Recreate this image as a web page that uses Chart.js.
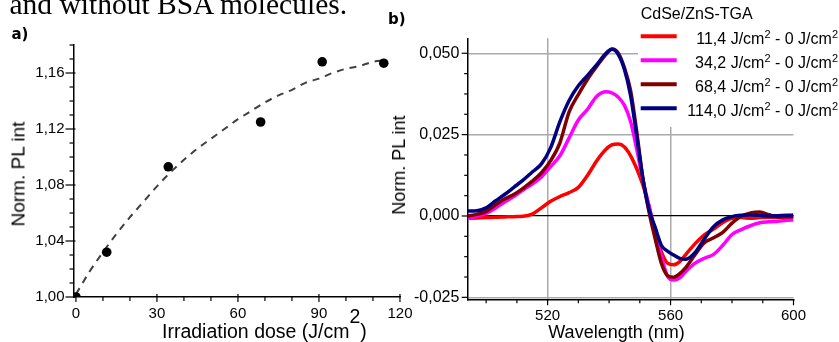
<!DOCTYPE html>
<html><head><meta charset="utf-8">
<script src="https://cdn.jsdelivr.net/npm/chart.js@4.4.1/dist/chart.umd.min.js"></script>
<style>
html,body{margin:0;padding:0;background:#fff;}
body{width:839px;height:342px;position:relative;overflow:hidden;font-family:"Liberation Sans",Arial,sans-serif;color:#000;}
canvas{position:absolute;top:0;}
#cA{left:0;}
#cB{left:380px;}
.t{position:absolute;white-space:nowrap;line-height:1;font-family:"Liberation Sans",Arial,sans-serif;}
.lab{font-family:"DejaVu Sans",sans-serif;font-size:15px;font-weight:700;}
</style></head><body>
<canvas id="cA" width="420" height="342"></canvas>
<canvas id="cB" width="459" height="342"></canvas>
<div class="t" style="left:9.5px;top:-10.2px;font-family:'Liberation Serif','Times New Roman',serif;font-size:29.5px;line-height:29.5px;">and without BSA molecules.</div>
<div class="t lab" style="left:11.5px;top:26.5px;">a)</div>
<div class="t lab" style="left:388px;top:11.5px;">b)</div>
<div class="t" style="left:18px;top:174px;font-size:19px;transform:translate(-50%,-50%) rotate(-90deg);">Norm. PL int</div>
<div class="t" style="left:162px;top:321.5px;font-size:19.5px;">Irradiation dose (J/cm<span style="position:relative;top:-14.5px">2</span>)</div>
<div class="t" style="left:399px;top:165px;font-size:18px;transform:translate(-50%,-50%) rotate(-90deg);">Norm. PL int</div>
<div class="t" style="left:548.3px;top:322.8px;font-size:18px;">Wavelength (nm)</div>
<script>
// ---------- Panel a data ----------
const dose   = [0, 11.4, 34.2, 68.4, 91.2, 114.0];
const normPL = [1.000, 1.032, 1.093, 1.125, 1.168, 1.167];
const fitDose = [0,5,10,15,20,25,30,35,40,45,50,55,60,65,70,75,80,85,90,95,100,105,110,114];
const fitPL   = [1.002,1.018,1.032,1.045,1.057,1.068,1.079,1.089,1.098,1.106,1.113,1.120,1.127,1.133,1.139,1.144,1.148,1.153,1.156,1.160,1.163,1.165,1.168,1.169];
const doseTicks = [0,30,60,90,120];
const doseMinor = [10,20,40,50,70,80,100,110];
const plTicks = [1.00,1.04,1.08,1.12,1.16];
const plMinor = [1.01,1.02,1.03,1.05,1.06,1.07,1.09,1.10,1.11,1.13,1.14,1.15,1.17,1.18];

// ---------- Panel b data ----------
const wavelength = [494,497,500,503,506,509,512,515,518,521,524,527,530,533,536,539,541,543,545,547,549,551,553,555,557,559,561,563,565,568,571,574,577,580,583,586,589,592,595,598,600];
const diff11 = [-0.0007,-0.0006,-0.0005,-0.0004,-0.0003,-0.0002,-0.0001,0.0006,0.0025,0.0045,0.0060,0.0072,0.0088,0.0125,0.0170,0.0205,0.0219,0.0221,0.0212,0.0185,0.0145,0.0095,0.0030,-0.0050,-0.0110,-0.0145,-0.0150,-0.0140,-0.0118,-0.0085,-0.0058,-0.0040,-0.0020,-0.0007,-0.0005,-0.0007,-0.0005,-0.0004,-0.0004,-0.0004,-0.0004];
const diff34 = [-0.0007,0.0000,0.0008,0.0024,0.0043,0.0060,0.0080,0.0098,0.0120,0.0152,0.0185,0.0240,0.0295,0.0328,0.0368,0.0382,0.0378,0.0365,0.0340,0.0290,0.0205,0.0110,0.0030,-0.0055,-0.0125,-0.0185,-0.0197,-0.0190,-0.0170,-0.0145,-0.0130,-0.0118,-0.0090,-0.0057,-0.0042,-0.0030,-0.0021,-0.0018,-0.0016,-0.0013,-0.0012];
const diff68 = [0.0000,0.0005,0.0014,0.0034,0.0052,0.0066,0.0085,0.0107,0.0133,0.0170,0.0225,0.0320,0.0373,0.0420,0.0460,0.0497,0.0513,0.0500,0.0455,0.0385,0.0258,0.0115,0.0012,-0.0070,-0.0145,-0.0183,-0.0188,-0.0177,-0.0158,-0.0118,-0.0082,-0.0067,-0.0050,-0.0022,0.0000,0.0009,0.0012,0.0004,-0.0003,-0.0002,-0.0002];
const diff114 = [0.0015,0.0016,0.0025,0.0046,0.0066,0.0088,0.0110,0.0135,0.0160,0.0210,0.0290,0.0355,0.0400,0.0432,0.0465,0.0500,0.0512,0.0496,0.0450,0.0370,0.0245,0.0115,0.0020,-0.0035,-0.0090,-0.0108,-0.0120,-0.0130,-0.0133,-0.0112,-0.0070,-0.0033,-0.0012,-0.0002,0.0002,0.0003,0.0002,0.0000,0.0001,0.0002,0.0003];
const seriesLabels = ['11,4 J/cm\u00B2 - 0 J/cm\u00B2','34,2 J/cm\u00B2 - 0 J/cm\u00B2','68,4 J/cm\u00B2 - 0 J/cm\u00B2','114,0 J/cm\u00B2 - 0 J/cm\u00B2'];
const seriesColors = ['#ff0000','#ff00ff','#800000','#000080'];
const legendTitle = 'CdSe/ZnS-TGA';
const wlTicks = [520,560,600];
const wlMinor = [500,510,530,540,550,570,580,590];
const diffTicks = [-0.025,0,0.025,0.05];
const diffMinor = [-0.01875,-0.0125,-0.00625,0.00625,0.0125,0.01875,0.03125,0.0375,0.04375];

const FONT = '"Liberation Sans", Arial, sans-serif';
const comma = (v,d) => Number(v).toFixed(d).replace('.', ',');

const tickMarks = {
  id: 'tickMarks',
  afterDraw(chart, args, o) {
    const ctx = chart.ctx, a = chart.chartArea, xs = chart.scales.x, ys = chart.scales.y;
    ctx.save();
    ctx.strokeStyle = '#000';
    ctx.lineWidth = 1.2;
    const seg = (x1,y1,x2,y2) => { ctx.beginPath(); ctx.moveTo(x1,y1); ctx.lineTo(x2,y2); ctx.stroke(); };
    o.xMajor.forEach(v => { const p = xs.getPixelForValue(v); seg(p, a.bottom - o.xMajorIn, p, a.bottom + o.xMajorOut); });
    o.xMinor.forEach(v => { const p = xs.getPixelForValue(v); seg(p, a.bottom, p, a.bottom + o.xMinorOut); });
    o.yMajor.forEach(v => { const p = ys.getPixelForValue(v); seg(a.left - o.yMajorOut, p, a.left + o.yMajorIn, p); });
    o.yMinor.forEach(v => { const p = ys.getPixelForValue(v); seg(a.left - o.yMinorOut, p, a.left, p); });
    ctx.restore();
  }
};

const boxLegend = {
  id: 'boxLegend',
  afterDraw(chart, args, o) {
    const ctx = chart.ctx;
    const mainFont = '16px ' + FONT, supFont = '11px ' + FONT;
    ctx.save();
    ctx.fillStyle = '#fff';
    ctx.fillRect(o.left, 0, chart.width - o.left, o.bottom);
    ctx.fillStyle = '#000';
    ctx.textBaseline = 'alphabetic';
    ctx.textAlign = 'left';
    ctx.font = '16px ' + FONT;
    ctx.fillText(o.title, o.lineX, o.titleBase);
    chart.data.datasets.forEach((ds, i) => {
      const y = o.rowY + i * o.rowH;
      ctx.strokeStyle = ds.borderColor;
      ctx.lineWidth = 4;
      ctx.beginPath(); ctx.moveTo(o.lineX, y); ctx.lineTo(o.lineX + o.lineLen, y); ctx.stroke();
      const parts = ds.label.split('\u00B2');
      ctx.font = supFont; const sw = ctx.measureText('2').width;
      ctx.font = mainFont;
      let total = 0;
      parts.forEach(p => { total += ctx.measureText(p).width; });
      total += (parts.length - 1) * sw;
      let x = o.textRight - total;
      const base = y + 7.3;
      parts.forEach((p, j) => {
        ctx.font = mainFont; ctx.fillText(p, x, base); x += ctx.measureText(p).width;
        if (j < parts.length - 1) { ctx.font = supFont; ctx.fillText('2', x, base - 6); x += sw; }
      });
    });
    ctx.restore();
  }
};

// ---------- Chart a ----------
new Chart(document.getElementById('cA'), {
  type: 'scatter',
  data: { datasets: [
    { type: 'line', label: 'fit', data: fitDose.map((x,i) => ({x, y: fitPL[i]})),
      borderColor: '#404040', borderWidth: 2, borderDash: [7,6], pointRadius: 0,
      tension: 0.4, cubicInterpolationMode: 'monotone', fill: false, order: 1 },
    { type: 'scatter', label: 'data', data: dose.map((x,i) => ({x, y: normPL[i]})),
      backgroundColor: '#000', borderColor: '#000', borderWidth: 0, pointRadius: 4.8, clip: 0, order: 0 }
  ]},
  options: {
    responsive: false, animation: false, devicePixelRatio: 1,
    layout: { padding: { left: 0, top: 45, right: 17, bottom: 0 } },
    plugins: { legend: { display: false }, tooltip: { enabled: false },
      tickMarks: { xMajor: doseTicks, xMinor: doseMinor, yMajor: plTicks, yMinor: plMinor,
        xMajorIn: 3, xMajorOut: 5, xMinorOut: 4, yMajorIn: 2, yMajorOut: 8, yMinorOut: 4 } },
    scales: {
      x: { type: 'linear', position: 'bottom', min: -0.9, max: 120.2,
        afterBuildTicks: s => { s.ticks = doseTicks.map(v => ({value: v})); },
        afterFit: s => { s.height = 45; },
        grid: { display: false, drawTicks: false },
        border: { display: true, color: '#000', width: 1.5 },
        ticks: { color: '#000', font: { family: FONT, size: 15 }, padding: 7.5, maxRotation: 0, autoSkip: false,
          callback: v => String(v) } },
      y: { type: 'linear', min: 1.0, max: 1.18,
        afterBuildTicks: s => { s.ticks = plTicks.map(v => ({value: v})); },
        afterFit: s => { s.width = 73.5; },
        grid: { display: false, drawTicks: false },
        border: { display: true, color: '#000', width: 1.5 },
        ticks: { color: '#000', font: { family: FONT, size: 15 }, padding: 9, autoSkip: false,
          callback: v => comma(v, 2) } }
    }
  },
  plugins: [tickMarks]
});

// ---------- Chart b ----------
const seriesData = [diff11, diff34, diff68, diff114];
new Chart(document.getElementById('cB'), {
  type: 'line',
  data: { datasets: seriesData.map((arr, k) => ({
    label: seriesLabels[k],
    data: wavelength.map((x, i) => ({x, y: arr[i]})),
    borderColor: seriesColors[k], backgroundColor: seriesColors[k],
    borderWidth: 3.5, pointRadius: 0, tension: 0.4, cubicInterpolationMode: 'monotone',
    fill: false, order: 3 - k
  })) },
  options: {
    responsive: false, animation: false, devicePixelRatio: 1,
    layout: { padding: { left: 0, top: 38.3, right: 45.5, bottom: 0 } },
    plugins: { legend: { display: false }, tooltip: { enabled: false },
      tickMarks: { xMajor: wlTicks, xMinor: wlMinor, yMajor: diffTicks, yMinor: diffMinor,
        xMajorIn: 0, xMajorOut: 6, xMinorOut: 4, yMajorIn: 0, yMajorOut: 6, yMinorOut: 3.5 },
      boxLegend: { left: 258, bottom: 127, title: legendTitle, titleBase: 19.3, lineX: 260.7, lineLen: 36,
        rowY: 36.3, rowH: 24, textRight: 458 } },
    scales: {
      x: { type: 'linear', position: 'bottom', min: 494.0, max: 600,
        afterBuildTicks: s => { s.ticks = wlTicks.map(v => ({value: v})); },
        afterFit: s => { s.height = 42.7; },
        grid: { display: true, drawOnChartArea: true, drawTicks: false, lineWidth: 1.5,
          color: c => (c.tick && c.tick.value < 599) ? '#aaaaaa' : 'rgba(0,0,0,0)' },
        border: { display: true, color: '#000', width: 1.5 },
        ticks: { color: '#000', font: { family: FONT, size: 15 }, padding: 8, maxRotation: 0, autoSkip: false,
          callback: v => String(v) } },
      y: { type: 'linear', min: -0.0256, max: 0.0546,
        afterBuildTicks: s => { s.ticks = diffTicks.map(v => ({value: v})); },
        afterFit: s => { s.width = 87.7; },
        grid: { display: true, drawOnChartArea: true, drawTicks: false,
          lineWidth: c => (c.tick && c.tick.value === 0) ? 1.2 : 1.5,
          color: c => (c.tick && c.tick.value === 0) ? '#000000' : '#aaaaaa' },
        border: { display: true, color: '#000', width: 1.5 },
        ticks: { color: '#000', font: { family: FONT, size: 16 }, padding: 8.3, autoSkip: false,
          callback: v => comma(v, 3) } }
    }
  },
  plugins: [tickMarks, boxLegend]
});
</script>
</body></html>
